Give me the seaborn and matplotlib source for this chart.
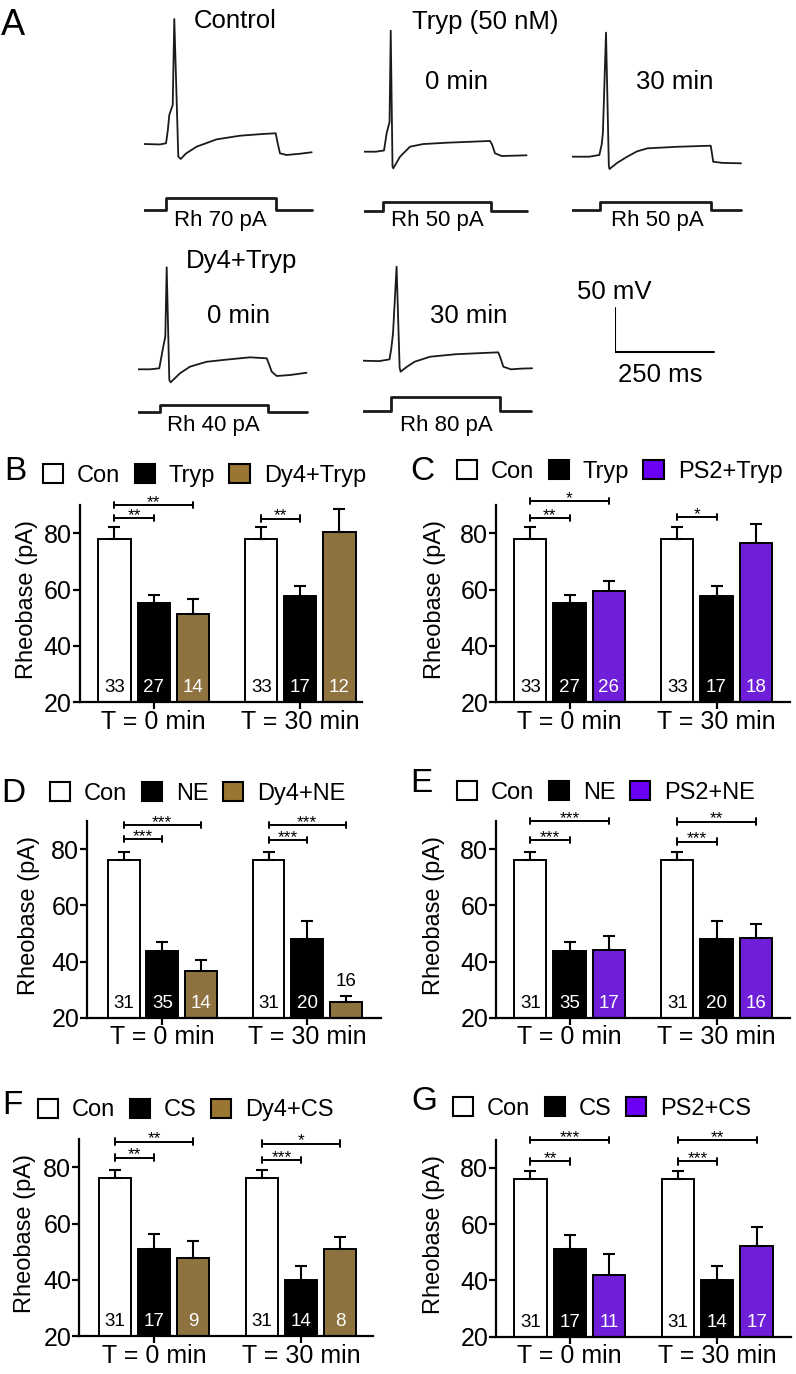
import numpy as np
import pandas as pd
import seaborn as sns
import matplotlib.pyplot as plt
from matplotlib.patches import Patch

W, H = 796, 1374

# PANEL A: example traces, time in ms, membrane potential in mV
ctrl_t = [0, 40, 55.6, 60, 63.9, 72.5, 76.5, 86.6, 92.7, 106, 133, 183.6, 242, 301, 332.6, 338, 343.4, 360, 395, 423.5]
ctrl_v = [-60, -60.5, -59.2, -45, -27, -15.7, 82, -74.4, -77, -70.8, -63, -54.7, -50.6, -48.6, -47.8, -60, -70.6, -72.5, -71, -69.4]

tryp0_t = [0, 30, 51, 57.8, 65, 68, 72.5, 74.5, 91.4, 116.7, 150, 209, 318.7, 324, 331.3, 348, 380, 411]
tryp0_v = [-60, -60, -58.6, -38.8, -26.3, 77.5, -77, -78.9, -65.7, -54.3, -51.3, -49.8, -47.8, -52, -61.8, -64.9, -64.5, -64.1]

tryp30_t = [0, 45, 70.2, 76, 79, 86.9, 94, 95.7, 115, 140.4, 165, 191.4, 268, 351.3, 354, 357.6, 380, 405, 427.8]
tryp30_v = [-60, -60, -58, -46, -33, 81, -70, -74, -67, -60, -54, -50.5, -48.7, -47.5, -55, -65.7, -67, -67.3, -67.5]

dy0_t = [0, 30, 53, 63, 68.2, 71.7, 78.3, 81.8, 105.3, 130.6, 172.7, 231.6, 282, 324.2, 330, 336.9, 349.5, 383, 425]
dy0_v = [-60, -60, -58.9, -34.3, -23, 55.9, -72.2, -74.8, -64.5, -57, -51.4, -48.6, -46.4, -47.5, -54, -62.7, -67.6, -66.5, -63.9]

dy30_t = [0, 40, 66.4, 71, 75.3, 84.3, 92, 94.4, 110, 130.3, 168.7, 232.3, 290, 341, 346, 353.8, 373, 400, 426.5]
dy30_v = [-60, -60.5, -58.5, -46, -28.9, 46.8, -68, -72.5, -67, -61.1, -55.5, -52.7, -51.5, -50.5, -56, -66.8, -69.8, -69, -68.6]

# current steps (pA): rheobase, step on / off / end of sweep (ms)
rh_values = [70, 50, 50, 40, 80]
stim_on = [55.6, 49, 72.7, 54.8, 70]
stim_off = [332.6, 321, 351, 328, 344.8]
stim_end = [423.5, 411, 427.8, 425, 424]

# PANELS B-G: rheobase (pA), mean / sem / n, order Con, drug, antagonist+drug at 0 then 30 min
times = ['T = 0 min', 'T = 30 min']

B_groups = ['Con', 'Tryp', 'Dy4+Tryp']
B_mean = [78, 55.2, 51.4, 78, 57.6, 80.6]
B_sem = [4.3, 3.0, 5.3, 4.3, 3.8, 8.2]
B_n = [33, 27, 14, 33, 17, 12]
B_sig = [(0, 1, 85.5, '**'), (0, 2, 90.2, '**'), (1, 1, 85.3, '**')]

C_groups = ['Con', 'Tryp', 'PS2+Tryp']
C_mean = [78, 55.2, 59.6, 78, 57.6, 76.7]
C_sem = [4.3, 3.0, 3.5, 4.3, 3.8, 6.5]
C_n = [33, 27, 26, 33, 17, 18]
C_sig = [(0, 1, 85.6, '**'), (0, 2, 91.5, '*'), (1, 1, 85.8, '*')]

D_groups = ['Con', 'NE', 'Dy4+NE']
D_mean = [76.1, 43.6, 36.7, 76.1, 48.1, 25.7]
D_sem = [2.9, 3.3, 3.9, 2.9, 6.4, 2.2]
D_n = [31, 35, 14, 31, 20, 16]
D_sig = [(0, 1, 83.5, '***'), (0, 2, 88.6, '***'), (1, 1, 83.2, '***'), (1, 2, 88.5, '***')]

E_groups = ['Con', 'NE', 'PS2+NE']
E_mean = [76.1, 43.6, 44.2, 76.1, 48.1, 48.2]
E_sem = [2.9, 3.3, 5.0, 2.9, 6.4, 5.3]
E_n = [31, 35, 17, 31, 20, 16]
E_sig = [(0, 1, 83.1, '***'), (0, 2, 90.0, '***'), (1, 1, 82.7, '***'), (1, 2, 89.8, '**')]

F_groups = ['Con', 'CS', 'Dy4+CS']
F_mean = [76.1, 51.1, 47.7, 76.1, 40.0, 51.1]
F_sem = [2.9, 5.2, 6.0, 2.9, 5.0, 4.0]
F_n = [31, 17, 9, 31, 14, 8]
F_sig = [(0, 1, 83.5, '**'), (0, 2, 89.2, '**'), (1, 1, 82.6, '***'), (1, 2, 88.5, '*')]

G_groups = ['Con', 'CS', 'PS2+CS']
G_mean = [76.1, 51.1, 42.0, 76.1, 40.1, 52.3]
G_sem = [2.9, 5.1, 7.5, 2.9, 5.0, 6.5]
G_n = [31, 17, 11, 31, 14, 17]
G_sig = [(0, 1, 82.3, '**'), (0, 2, 89.8, '***'), (1, 1, 82.3, '***'), (1, 2, 89.8, '**')]

BROWN = '#9b7633'
PURPLE = '#6a00f6'

sns.set_style('ticks')
plt.rcParams['font.family'] = ['Liberation Sans', 'DejaVu Sans']
plt.rcParams.update({'text.color': 'black', 'axes.labelcolor': 'black', 'axes.edgecolor': 'black',
                     'xtick.color': 'black', 'ytick.color': 'black'})

fig = plt.figure(figsize=(W / 100, H / 100), dpi=100)

MS_PX, MV_PX, PA_PX = 0.396, 0.88, 0.17


def px_text(x, y, s, size, **kw):
    fig.text(x / W, 1 - y / H, s, fontsize=size, ha=kw.pop('ha', 'center'), va=kw.pop('va', 'center'), **kw)


def trace_axes(x0, yb, ylo, yhi, scale, ref):
    # data units scaled to pixels, value `ref` sits on pixel row yb
    width = 440 * MS_PX
    top = yb - (yhi - ref) * scale
    height = (yhi - ylo) * scale
    ax = fig.add_axes([x0 / W, 1 - (top + height) / H, width / W, height / H])
    ax.set_xlim(0, 440)
    ax.set_ylim(ylo, yhi)
    ax.axis('off')
    ax.patch.set_alpha(0)
    return ax


# ---- panel A ----
v_traces = [(ctrl_t, ctrl_v), (tryp0_t, tryp0_v), (tryp30_t, tryp30_v), (dy0_t, dy0_v), (dy30_t, dy30_v)]
v_pos = [(144, 144), (363.8, 151.7), (571.6, 156.7), (138.3, 369.3), (363.2, 360.7)]
i_base = [210, 210.7, 210.3, 412, 411]

for k, (t, v) in enumerate(v_traces):
    ax = trace_axes(v_pos[k][0], v_pos[k][1], -100, 100, MV_PX, -60)
    sns.lineplot(x=t, y=v, ax=ax, color='#1a1a1a', lw=1.3, sort=False, estimator=None)
    ax.axis('off')
    axi = trace_axes(v_pos[k][0], i_base[k], -20, 100, PA_PX, 0)
    st = [0, stim_on[k], stim_on[k], stim_off[k], stim_off[k], stim_end[k]]
    si = [0, 0, rh_values[k], rh_values[k], 0, 0]
    axi.plot(st, si, color='#1a1a1a', lw=2.0)

# scale bar 50 mV / 250 ms
axs = trace_axes(615.3, 351.7, -100, 100, MV_PX, -60)
axs.plot([0, 0, 250], [-10, -60, -60], color='black', lw=1.5)

px_text(1, 35, 'A', 26, ha='left', va='baseline')
for s, x, y in [('Control', 235, 28.5), ('Tryp (50 nM)', 485, 29), ('0 min', 456, 89.3), ('30 min', 675, 89.3),
                ('Dy4+Tryp', 242, 268.3), ('0 min', 238.3, 323.3), ('30 min', 469, 323.3)]:
    px_text(x, y, s, 18.5, va='baseline')
for k, (x, y) in enumerate([(220.5, 226), (437.5, 226), (657, 226), (213.3, 431), (446, 431)]):
    px_text(x, y, f'Rh {rh_values[k]} pA', 16, va='baseline')
px_text(576.7, 299.3, '50 mV', 18.5, ha='left', va='baseline')
px_text(660.3, 381.7, '250 ms', 18.5, va='baseline')


# ---- panels B-G ----
def bar_panel(letter, groups, third, mean, sem, n, sig, left, right, y20, xlim,
              letter_xy, legend_xy, ylab_off, above=()):
    colors = ['white', 'black', third]
    ax = fig.add_axes([left / W, 1 - y20 / H, (right - left) / W, 70 * 2.81 / H])
    df = pd.DataFrame({'time': np.repeat(times, 3), 'group': groups * 2, 'mean': mean})
    sns.barplot(data=df, x='time', y='mean', hue='group', hue_order=groups,
                palette=dict(zip(groups, colors)), width=0.8, gap=0.18,
                edgecolor='black', linewidth=1.4, errorbar=None, legend=False, ax=ax)
    bars = sorted(ax.patches, key=lambda p: p.get_x())
    xs = [p.get_x() + p.get_width() / 2 for p in bars]
    ax.errorbar(xs, mean, yerr=[np.zeros(6), sem], fmt='none', ecolor='black',
                elinewidth=1.5, capsize=4.5, capthick=1.5)
    for k, x in enumerate(xs):
        if k in above:
            ax.text(x, mean[k] + sem[k] + 5, str(n[k]), ha='center', va='center', fontsize=13.5, color='black')
        else:
            ax.text(x, 25, str(n[k]), ha='center', va='center', fontsize=13.5,
                    color='black' if k % 3 == 0 else 'white')
    for ti, gj, y, lab in sig:
        x1, x2 = xs[ti * 3], xs[ti * 3 + gj]
        ax.plot([x1, x2], [y, y], color='black', lw=1.4, clip_on=False)
        for xe in (x1, x2):
            ax.plot([xe, xe], [y - 1.1, y + 1.1], color='black', lw=1.4, clip_on=False)
        ax.text((x1 + x2) / 2, y - 0.7, lab, ha='center', va='baseline', fontsize=12.5, clip_on=False)

    ax.set_xlim(*xlim)
    ax.set_ylim(20, 90)
    ax.set_yticks([20, 40, 60, 80])
    ax.set_xlabel('')
    ax.set_ylabel('Rheobase (pA)', fontsize=17)
    ax.yaxis.set_label_coords(-ylab_off / (right - left), 0.52)
    sns.despine(ax=ax)
    for sp in ax.spines.values():
        sp.set_linewidth(1.6)
    ax.tick_params(direction='out', length=5, width=1.6, labelsize=18, pad=0.5, color='black')

    handles = [Patch(facecolor=c, edgecolor='black', linewidth=1.5, label=g) for g, c in zip(groups, colors)]
    ax.legend(handles=handles, loc='center left', bbox_to_anchor=(legend_xy[0] / W, 1 - legend_xy[1] / H),
              bbox_transform=fig.transFigure, ncol=3, frameon=False, fontsize=17,
              handlelength=0.85, handleheight=0.85, handletextpad=0.6, columnspacing=0.6,
              borderpad=0, borderaxespad=0)
    px_text(letter_xy[0], letter_xy[1], letter, 24)


bar_panel('B', B_groups, BROWN, B_mean, B_sem, B_n, B_sig, 79.5, 362, 702, (-0.505, 1.42), (15, 472), (43, 475.5), 41)
bar_panel('C', C_groups, PURPLE, C_mean, C_sem, C_n, C_sig, 496, 790, 702, (-0.5, 1.5), (422, 472), (457, 471.5), 50)
bar_panel('D', D_groups, BROWN, D_mean, D_sem, D_n, D_sig, 87, 381, 1017.7, (-0.52, 1.51), (13, 793), (50, 793.5), 47, above=(5,))
bar_panel('E', E_groups, PURPLE, E_mean, E_sem, E_n, E_sig, 496, 790, 1017.7, (-0.5, 1.5), (421, 784), (457, 792.5), 51)
bar_panel('F', F_groups, BROWN, F_mean, F_sem, F_n, F_sig, 79, 373, 1336, (-0.51, 1.49), (12, 1105), (38, 1110), 43)
bar_panel('G', G_groups, PURPLE, G_mean, G_sem, G_n, G_sig, 496, 791, 1336.5, (-0.5, 1.5), (424, 1101), (453, 1108.5), 51)

fig.savefig('out.png', dpi=100)
